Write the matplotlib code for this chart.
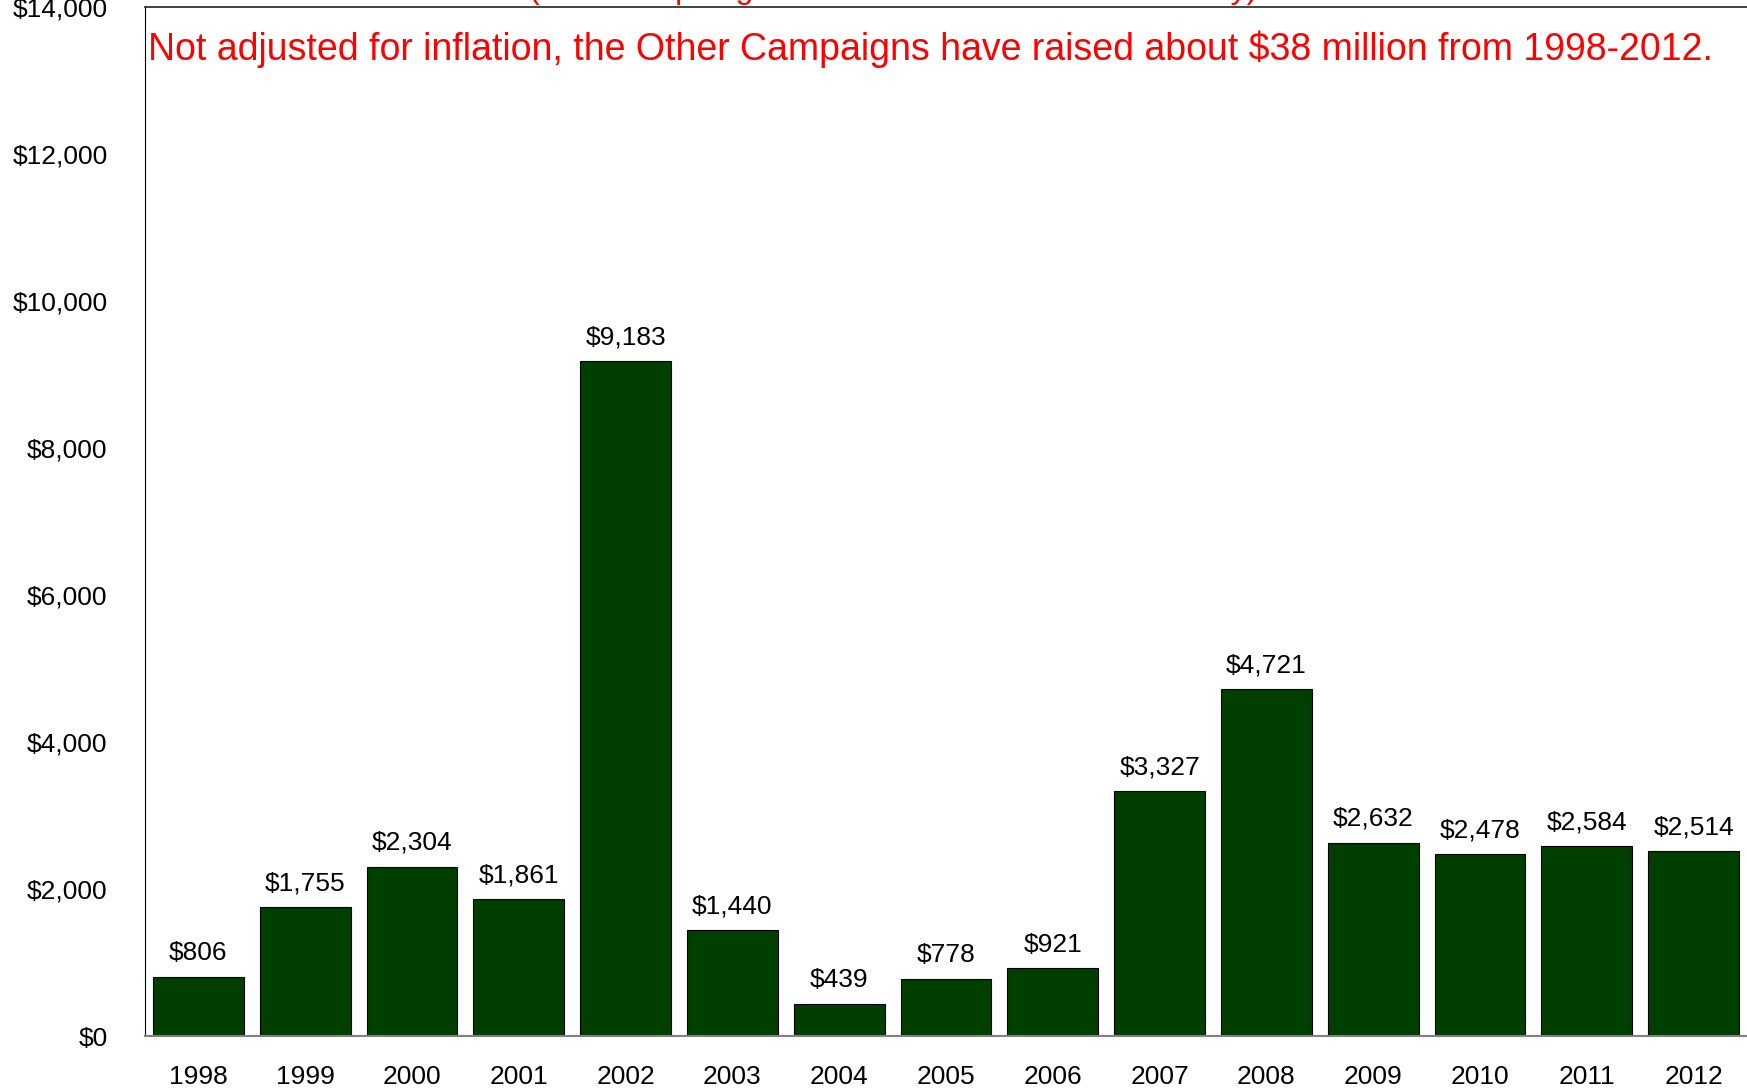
import matplotlib
matplotlib.use("Agg")
import matplotlib.pyplot as plt
from matplotlib.ticker import FuncFormatter

plt.rcParams['font.family'] = ['Liberation Sans', 'DejaVu Sans']

# amounts raised, thousands of dollars
years = ['1998', '1999', '2000', '2001', '2002', '2003', '2004', '2005',
         '2006', '2007', '2008', '2009', '2010', '2011', '2012']
raised = [806, 1755, 2304, 1861, 9183, 1440, 439, 778,
          921, 3327, 4721, 2632, 2478, 2584, 2514]
y_ticks = [0, 2000, 4000, 6000, 8000, 10000, 12000, 14000]

note = "Not adjusted for inflation, the Other Campaigns have raised about $38 million from 1998-2012."
subtitle = "(Amounts pledged in thousands of dollars annually)"

fig = plt.figure(figsize=(17.47, 10.89), dpi=100)
ax = fig.add_axes([145 / 1747, 1 - 1036 / 1089, 1 - 145 / 1747, (1036 - 7) / 1089])

x = range(len(years))
bars = ax.bar(x, raised, width=0.85, color='#003f00', edgecolor='black', linewidth=0.8)

for b, v in zip(bars, raised):
    ax.annotate(f"${v:,}", (b.get_x() + b.get_width() / 2, v),
                xytext=(0, 12), textcoords='offset points',
                ha='center', va='baseline', fontsize=19, color='black')

ax.set_xlim(-0.5, len(years) - 0.5)
ax.set_ylim(0, 14000)
ax.set_yticks(y_ticks)
ax.yaxis.set_major_formatter(FuncFormatter(lambda v, p: f"${int(v):,}"))
ax.set_xticks(list(x))
ax.set_xticklabels(years)
ax.tick_params(axis='y', length=0, pad=27, labelsize=19)
ax.tick_params(axis='x', length=0, pad=21, labelsize=19)

ax.spines['right'].set_visible(False)
ax.spines['bottom'].set_color('#808080')
ax.spines['bottom'].set_linewidth(1.5)
ax.spines['left'].set_color('black')
ax.spines['top'].set_color('#222222')
ax.spines['top'].set_linewidth(1.2)

fig.text(148 / 1747, 1 - 49 / 1089, note, color='red',
         fontsize=27, ha='left', va='center')
fig.text(0.511, 1 + 2 / 1089, subtitle, color='red', fontsize=23,
         ha='center', va='baseline')

fig.savefig('out.png', dpi=100)
